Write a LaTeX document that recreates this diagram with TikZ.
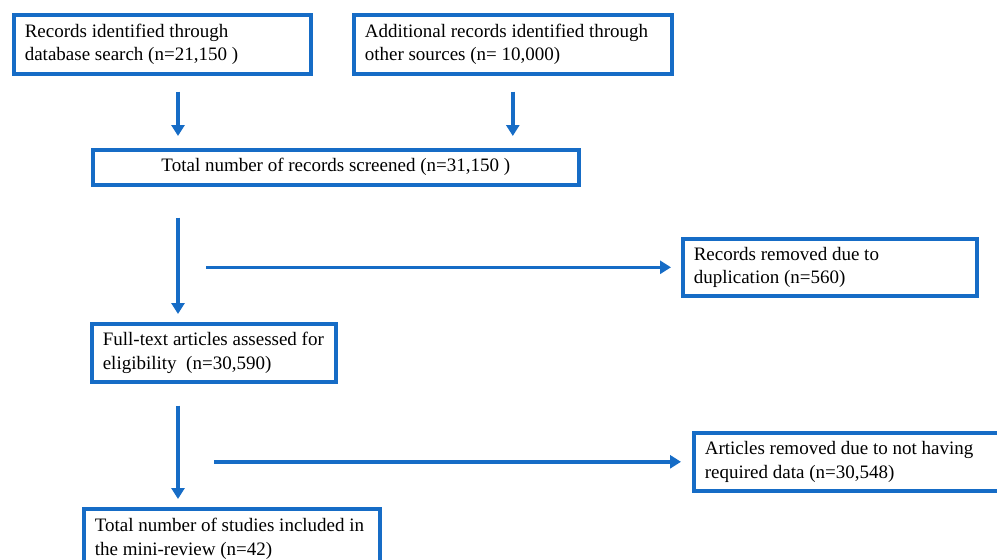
\documentclass[tikz,border=0pt]{standalone}
\usepackage{fontspec}
\setmainfont{Liberation Serif}
\usetikzlibrary{arrows.meta,calc}
\definecolor{prisma}{RGB}{22,108,198}
\begin{document}
\begin{tikzpicture}[x=1pt,y=1pt,
  box/.style={draw=prisma, line width=3.6pt, fill=white, anchor=north west,
    inner xsep=11pt, inner ysep=0pt, align=flush left, font=\fontsize{19}{23.5}\selectfont},
  arr/.style={draw=prisma, line width=3.6pt, -{Triangle[width=13pt,length=11pt]}}]
\useasboundingbox (0,0) rectangle (997,-560);
\node[box, minimum width=297, minimum height=59, text width=275] (b1) at (12,-13)
  {Records identified through\\database search (n=21,150 )};
\node[box, minimum width=318, minimum height=59, text width=296] (b2) at (352,-13)
  {Additional records identified through\\other sources (n= 10,000)};
\node[box, minimum width=486, minimum height=35, text width=464, align=flush center] (b3) at (91,-148)
  {Total number of records screened (n=31,150 )};
\node[box, minimum width=294, minimum height=57, text width=272] (b4) at (681,-237)
  {Records removed due to\\duplication (n=560)};
\node[box, minimum width=244, minimum height=58, text width=222] (b5) at (90,-322)
  {Full-text articles assessed for\\eligibility~ (n=30,590)};
\node[box, minimum width=320, minimum height=58, text width=298] (b6) at (692,-431)
  {Articles removed due to not having\\required data (n=30,548)};
\node[box, minimum width=296, minimum height=60, text width=274] (b7) at (82,-507)
  {Total number of studies included in\\the mini-review (n=42)};
\coordinate (colx) at (178,0);
\draw[arr, shorten <=16pt, shorten >=12pt] (b1.south -| colx) -- (b3.north -| colx);
\draw[arr, shorten <=16pt, shorten >=12pt] (b2.south) -- (b2.south |- b3.north);
\draw[arr, shorten <=31pt, shorten >=8pt] (b3.south -| colx) -- (b5.north -| colx);
\draw[arr, shorten <=28pt, shorten >=10pt] (b4.west -| colx) -- (b4.west);
\draw[arr, shorten <=22pt, shorten >=8pt] (b5.south -| colx) -- (b7.north -| colx);
\draw[arr, shorten <=36pt, shorten >=11pt] (b6.west -| colx) -- (b6.west);
\end{tikzpicture}
\end{document}
